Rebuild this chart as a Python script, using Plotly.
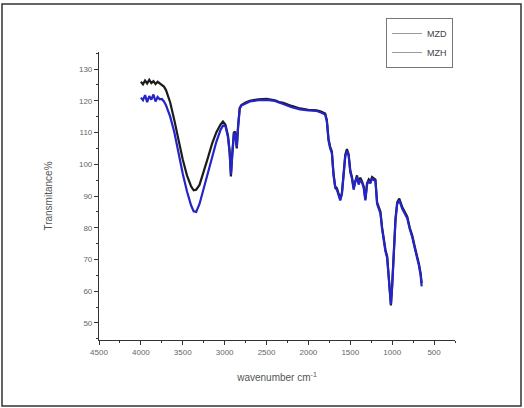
import plotly.graph_objects as go

# Wavenumbers (cm^-1)
wavenumber = [4000, 3975, 3950, 3925, 3900, 3875, 3850, 3825, 3800, 3775, 3750, 3725, 3700,
              3650, 3600, 3550, 3500, 3450, 3400, 3370, 3340, 3300, 3250, 3200, 3150, 3100,
              3050, 3020, 2990, 2960, 2940, 2925, 2910, 2890, 2875, 2855, 2840, 2820, 2800,
              2750, 2700, 2600, 2500, 2400, 2350, 2300, 2200, 2100, 2000, 1900, 1850, 1800,
              1780, 1760, 1740, 1720, 1700, 1680, 1660, 1640, 1620, 1600, 1580, 1560, 1540,
              1520, 1500, 1480, 1460, 1440, 1420, 1400, 1380, 1360, 1340, 1320, 1300, 1280,
              1260, 1240, 1220, 1200, 1180, 1160, 1140, 1120, 1100, 1080, 1060, 1040, 1030,
              1015, 1000, 980, 960, 940, 915, 880, 850, 820, 790, 760, 730, 700, 680, 660, 648]

mzd = [126.0, 125.2, 126.4, 125.5, 126.6, 125.6, 126.2, 125.3, 126.0, 125.4, 124.8, 124.5, 123.4,
       119.5, 113.8, 107.5, 101.5, 96.5, 93.0, 91.8, 92.0, 93.5, 97.5, 102.0, 106.5, 110.0,
       112.5, 113.5, 112.5, 109.0, 104.0, 96.2, 103.0, 110.0, 110.3, 105.0, 112.0, 117.8, 118.7,
       119.5, 120.0, 120.5, 120.6, 120.2, 119.6, 119.4, 118.4, 117.6, 117.2, 117.0, 116.6, 116.0,
       114.0, 108.0, 105.5, 104.0, 97.0, 93.0, 92.5, 90.5, 89.0, 91.0, 98.0, 103.0, 104.8,
       103.2, 98.0, 96.0, 92.5, 95.0, 96.5, 94.0, 95.8, 94.6, 93.0, 89.0, 94.0, 95.2,
       94.5, 96.0, 95.5, 95.2, 88.0, 86.5, 85.0, 80.0, 75.5, 73.0, 71.0, 64.0, 58.5,
       55.5, 62.0, 74.0, 83.0, 88.0, 89.2, 86.5, 85.0, 83.5, 80.0, 77.5, 74.0, 71.0, 68.5, 65.5, 62.5]

mzh = [121.0, 120.2, 121.8, 119.6, 121.5, 120.4, 122.0, 119.8, 121.2, 120.5, 120.6, 119.8, 118.6,
       115.0, 110.0, 103.0, 97.0, 91.5, 87.0, 85.2, 85.0, 87.5, 92.5, 97.5, 102.5, 107.0,
       110.8, 112.2, 112.0, 108.5, 103.5, 96.8, 102.5, 109.5, 109.8, 105.5, 111.5, 117.5, 118.5,
       119.2, 119.8, 120.2, 120.3, 120.0, 119.4, 119.0, 118.0, 117.3, 117.0, 116.8, 116.3, 115.7,
       113.5, 107.5, 105.0, 103.5, 96.5, 92.5, 92.0, 90.0, 88.6, 90.6, 97.5, 102.5, 104.2,
       102.8, 97.5, 95.5, 92.0, 94.6, 96.0, 93.6, 95.2, 94.2, 92.6, 88.6, 93.6, 94.8,
       94.0, 95.6, 95.0, 94.8, 87.5, 86.0, 84.5, 79.5, 75.0, 72.5, 70.5, 63.5, 58.0,
       55.8, 61.5, 73.5, 82.5, 87.5, 88.6, 86.0, 84.5, 83.0, 79.5, 77.0, 73.5, 70.5, 68.0, 65.0, 61.5]

series_names = ["MZD", "MZH"]
y_ticks = [50, 60, 70, 80, 90, 100, 110, 120, 130]
x_ticks = [4500, 4000, 3500, 3000, 2500, 2000, 1500, 1000, 500]

fig = go.Figure()
fig.add_trace(go.Scatter(x=wavenumber, y=mzd, mode="lines", name=series_names[0],
                         line=dict(color="#1c1c1c", width=2.2), showlegend=False))
fig.add_trace(go.Scatter(x=wavenumber, y=mzh, mode="lines", name=series_names[1],
                         line=dict(color="#2424c8", width=2.2), showlegend=False))
# legend entries (thin gray lines as in the reference)
for nm in series_names:
    fig.add_trace(go.Scatter(x=[None], y=[None], mode="lines", name=nm,
                             line=dict(color="#9a9a9a", width=1)))

L, R, T, B = 99, 69, 52, 68
W, H = 524, 408
pw, ph = W - L - R, H - T - B

def px_to_paper_x(px):
    return (px - L) / pw

def px_to_paper_y(py):
    return (H - B - py) / ph

fig.update_layout(
    width=W, height=H,
    margin=dict(l=L, r=R, t=T, b=B),
    paper_bgcolor="white", plot_bgcolor="white",
    font=dict(family="Liberation Sans, Arial, sans-serif", color="#555555"),
    legend=dict(x=px_to_paper_x(386), y=px_to_paper_y(18), xanchor="left", yanchor="top",
                bordercolor="#777777", borderwidth=1, bgcolor="white",
                font=dict(size=9, color="#444444"), tracegroupgap=0,
                itemwidth=30),
    xaxis=dict(range=[4500, 250], tickvals=x_ticks, ticks="outside", ticklen=4,
               tickwidth=1, tickcolor="#333333", showline=True, linecolor="#333333",
               linewidth=1.2, showgrid=False, zeroline=False,
               tickfont=dict(size=8, color="#666666"),
               minor=dict(ticks="outside", ticklen=2, dtick=250, tickcolor="#333333", showgrid=False),
               title=dict(text="wavenumber cm<sup>-1</sup>", font=dict(size=10, color="#555555"),
                          standoff=18)),
    yaxis=dict(range=[44.6, 135.4], tickvals=y_ticks, ticks="outside", ticklen=4,
               tickwidth=1, tickcolor="#333333", showline=True, linecolor="#333333",
               linewidth=1.2, showgrid=False, zeroline=False,
               tickfont=dict(size=8, color="#666666"),
               minor=dict(ticks="outside", ticklen=2, dtick=5, tickcolor="#333333", showgrid=False),
               title=dict(text="Transmitance%", font=dict(size=10, color="#555555"),
                          standoff=24)),
    shapes=[dict(type="rect", xref="paper", yref="paper",
                 x0=px_to_paper_x(2), x1=px_to_paper_x(521),
                 y0=px_to_paper_y(406), y1=px_to_paper_y(4),
                 line=dict(color="#333333", width=1.5), fillcolor="rgba(0,0,0,0)")],
)

fig.write_html("out.html")
